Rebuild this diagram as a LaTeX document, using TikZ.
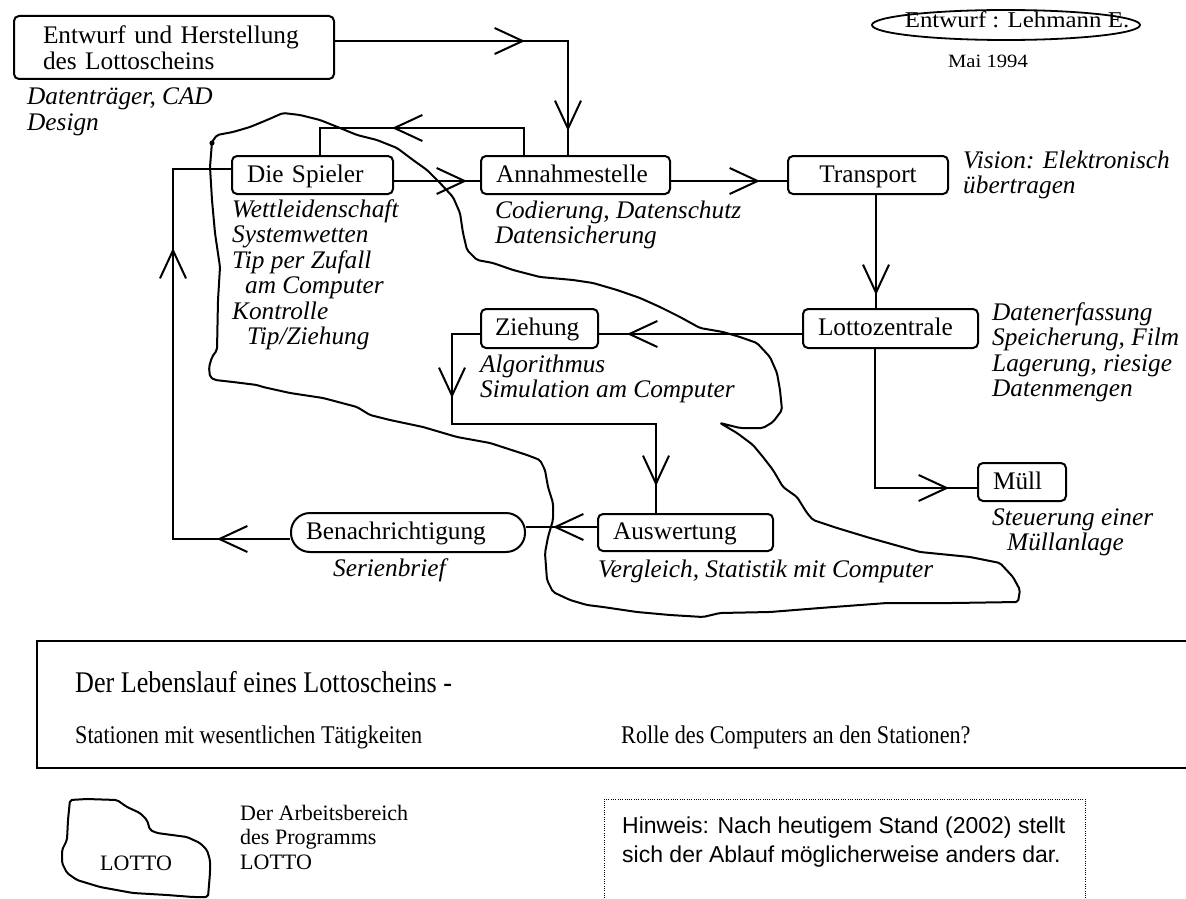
\documentclass[tikz,border=0pt]{standalone}
\usepackage{fontspec}
\setmainfont{Liberation Serif}
\newfontfamily\widefont{Liberation Serif}[FakeStretch=1.1]
\newfontfamily\narrowfont{Liberation Serif}[FakeStretch=0.87]
\newfontfamily\hintfont{Liberation Sans}
\usetikzlibrary{arrows.meta,decorations.markings}

\newcommand\stationsize{\fontsize{25.3}{25.5}\selectfont}

\tikzset{
  vtip/.tip={Straight Barb[length=28pt,width=26pt,line width=2pt]},
  station/.style={draw, line width=2pt, rounded corners=5pt, anchor=north west,
    inner xsep=15pt, inner ysep=0pt, align=left, font=\stationsize},
  oneline/.style={text height=18pt, text depth=4pt},
  % multi-line notes are placed by the baseline of their last line
  note/.style={anchor=base west, align=left, inner sep=0pt, font=\stationsize\itshape},
  conn/.style={line width=2pt},
  tip at/.style={postaction={decorate,decoration={markings,
      mark=at position #1 with {\arrow{vtip}}}}},
  tips at/.style 2 args={postaction={decorate,decoration={markings,
      mark=at position #1 with {\arrow{vtip}},
      mark=at position #2 with {\arrow{vtip}}}}},
  outline/.style={line width=2pt, rounded corners=2pt, line join=round},
}

\begin{document}
\begin{tikzpicture}[x=1pt,y=-1pt]
\useasboundingbox (0,0) rectangle (1186,899);

% ---- stations ----
\node[station, text width=262pt, inner xsep=29pt, minimum height=63pt] (entwurf) at (13,15)
  {Entwurf und Herstellung\\des Lottoscheins};
\node[station, oneline, text width=131pt, minimum height=38pt] (spieler) at (231,155) {Die Spieler};
\node[station, oneline, text width=159pt, minimum height=38pt] (annahme) at (480,155) {Annahmestelle};
\node[station, oneline, text width=130pt, align=center, minimum height=38pt] (transport) at (787,155) {Transport};
\node[station, oneline, text width=145pt, minimum height=39pt] (lottoz) at (802,308) {Lottozentrale};
\node[station, oneline, text width=89pt, inner xsep=14pt, minimum height=39pt] (ziehung) at (480,308) {Ziehung};
\node[station, oneline, text width=145pt, minimum height=37pt] (auswert) at (597,513) {Auswertung};
\node[station, oneline, text width=58pt, minimum height=38pt] (muell) at (977,462) {Müll};
\node[station, oneline, text width=204pt, minimum height=39pt, rounded corners=19pt] (benach) at (290,512) {Benachrichtigung};

% ---- activities at each station ----
\node[note] (nentwurf) at (27,130) {Datenträger, CAD\\Design};
\node[note] (nspieler) at (232,344.5) {Wettleidenschaft\\Systemwetten\\Tip per Zufall\\\hspace*{13pt}am Computer\\Kontrolle\\\hspace*{15pt}Tip/Ziehung};
\node[note] (nannahme) at (495,243.5) {Codierung, Datenschutz\\Datensicherung};
\node[note] (ntransport) at (963,193.5) {Vision: Elektronisch\\übertragen};
\node[note] (nlottoz) at (992,396.5) {Datenerfassung\\Speicherung, Film\\Lagerung, riesige\\Datenmengen};
\node[note] (nziehung) at (480,397.5) {Algorithmus\\Simulation am Computer};
\node[note] (nmuell) at (992,550.5) {Steuerung einer\\\hspace*{15pt}Müllanlage};
\node[note] (nauswert) at (598,577) {Vergleich, Statistik mit Computer};
\node[note] (nbenach) at (333,576) {Serienbrief};

% ---- flow ----
\draw[conn, tips at={190pt}{323pt}] ([yshift=6.5pt]entwurf.east) -| ([xshift=88pt]annahme.north west);
\draw[conn, tip at=159pt] ([xshift=44pt]annahme.north west) -- ++(0,-27) -| ([xshift=89pt]spieler.north west);
\draw[conn, tip at=73pt] ([yshift=-6pt]spieler.east) -- ([yshift=-6pt]annahme.west);
\draw[conn, tip at=89pt] ([yshift=-6pt]annahme.east) -- ([yshift=-6pt]transport.west);
\draw[conn, tip at=100pt] ([xshift=8pt]transport.south) -- ([xshift=8pt]transport.south |- lottoz.north);
\draw[conn, tip at=175pt] ([yshift=-5.5pt]lottoz.west) -- ([yshift=-5.5pt]ziehung.east);
\draw[conn, tips at={92pt}{384pt}] ([yshift=-5.5pt]ziehung.west) -- ++(-28,0) -- ++(0,90) -| ([xshift=59pt]auswert.north west);
\draw[conn, tip at=44pt] ([yshift=5.5pt]auswert.west) -- ([yshift=5.5pt]benach.east);
\draw[conn, tips at={73pt}{408pt}] ([yshift=-6.5pt]benach.west) -- ++(-117,0) |- ([yshift=6pt]spieler.west);
\draw[conn, tip at=213pt] ([xshift=73pt]lottoz.south west) |- ([yshift=-6pt]muell.west);

% ---- working area of the program ----
\draw[outline] (212,142) -- (217,135) -- (233,132) -- (250,127) -- (267,120) -- (283,113)
  -- (300,115) -- (320,120) -- (340,128) -- (357,135) -- (377,140) -- (397,148) -- (413,160)
  -- (427,170) -- (440,183) -- (453,197) -- (460,213) -- (463,233) -- (467,250) -- (477,260)
  -- (493,263) -- (513,270) -- (540,277) -- (573,280) -- (593,283) -- (617,290) -- (640,298)
  -- (660,307) -- (680,317) -- (700,328) -- (723,332) -- (740,337) -- (757,343) -- (770,357)
  -- (777,373) -- (780,390) -- (782,410) -- (773,422) -- (763,428) -- (740,428) -- (720,423)
  -- (737,433) -- (753,445) -- (763,457) -- (773,470) -- (783,487) -- (797,497) -- (807,513)
  -- (813,520) -- (837,528) -- (870,538) -- (920,552) -- (970,557) -- (1000,563) -- (1013,577)
  -- (1020,590) -- (1018,602) -- (953,603) -- (887,603) -- (820,608) -- (770,612) -- (720,613)
  -- (703,617) -- (670,615) -- (637,612) -- (603,607) -- (587,605) -- (570,600) -- (553,592)
  -- (547,580) -- (545,553) -- (548,537) -- (553,520) -- (553,503) -- (548,487) -- (545,470)
  -- (540,460) -- (527,455) -- (490,443) -- (457,437) -- (423,427) -- (390,420) -- (370,415)
  -- (357,407) -- (323,398) -- (290,393) -- (263,387) -- (257,385) -- (233,382) -- (215,380)
  -- (210,377) -- (209,367) -- (212,357) -- (217,350) -- (218,300) -- (220,267) -- (215,233)
  -- (212,200) -- (210,167) -- cycle;
\fill (212,143) circle (2.6pt);

% ---- author and date ----
\node[anchor=base, inner sep=0pt, font=\widefont\fontsize{22.6}{24}\selectfont] (author) at (1017,28) {Entwurf : Lehmann E.};
\draw[line width=1.8pt] (1006,25) ellipse [x radius=134pt, y radius=15pt];
\node[anchor=base, inner sep=0pt, font=\widefont\fontsize{18.8}{20}\selectfont] (date) at (988,67) {Mai 1994};

% ---- title frame ----
\draw[line width=2pt] (1190,641) -- (37,641) -- (37,768) -- (1190,768);
\node[anchor=base west, inner sep=0pt, font=\narrowfont\fontsize{30}{36}\selectfont] (title) at (75,692) {Der Lebenslauf eines Lottoscheins -};
\node[anchor=base west, inner sep=0pt, font=\narrowfont\fontsize{25.5}{30}\selectfont] (sub1) at (75,743) {Stationen mit wesentlichen Tätigkeiten};
\node[anchor=base west, inner sep=0pt, font=\narrowfont\fontsize{25.5}{30}\selectfont] (sub2) at (621,743) {Rolle des Computers an den Stationen?};

% ---- legend ----
\draw[outline] (70,800) -- (87,799) -- (117,800) -- (127,807) -- (140,813) -- (147,820)
  -- (150,830) -- (157,833) -- (187,837) -- (200,843) -- (207,850) -- (210,860) -- (210,873)
  -- (208,897) -- (193,897) -- (167,895) -- (133,893) -- (100,887) -- (77,880) -- (67,873)
  -- (62,863) -- (62,850) -- (67,840) -- (68,820) -- cycle;
\node[anchor=base west, inner sep=0pt, font=\fontsize{22}{24}\selectfont] (lotto) at (100,870) {LOTTO};
\node[anchor=base west, inner sep=0pt, align=left, font=\fontsize{22}{24.5}\selectfont] (legend) at (240,869)
  {Der Arbeitsbereich\\des Programms\\LOTTO};

% ---- remark ----
\draw[line width=1pt, dash pattern=on 1pt off 1.3pt] (604,905) -- (604,799) -- (1085,799) -- (1085,905);
\node[anchor=base west, inner sep=0pt, align=left, font=\hintfont\fontsize{23}{29}\selectfont] (hint) at (622,862)
  {Hinweis: Nach heutigem Stand (2002) stellt\\sich der Ablauf möglicherweise anders dar.};
\end{tikzpicture}
\end{document}
